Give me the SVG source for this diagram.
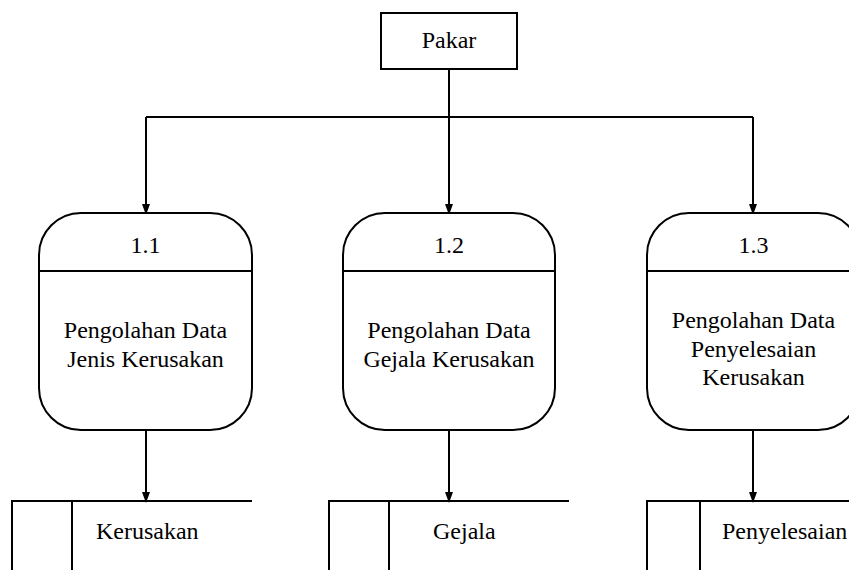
<svg xmlns="http://www.w3.org/2000/svg" width="849" height="570" viewBox="0 0 849 570" font-family="Liberation Serif" font-size="24">
<style>
.s{fill:#fff;stroke:#000;stroke-width:2}
.l{fill:none;stroke:#000;stroke-width:2}
.c{text-anchor:middle}
</style>
<defs>
<marker id="ah" markerWidth="11" markerHeight="15" refX="11" refY="5.5" orient="auto" markerUnits="userSpaceOnUse" viewBox="0 0 15 11">
<path d="M0,0 L15,5.5 L0,11 Z" fill="#000"/>
</marker>
</defs>
<g id="connectors">
<path class="l" d="M449,69 V212" marker-end="url(#ah)"/>
<path class="l" d="M146,117 H753"/>
<path class="l" d="M146,117 V212" marker-end="url(#ah)"/>
<path class="l" d="M753,117 V212" marker-end="url(#ah)"/>
<path class="l" d="M146,430 V500" marker-end="url(#ah)"/>
<path class="l" d="M449,430 V500" marker-end="url(#ah)"/>
<path class="l" d="M753,430 V500" marker-end="url(#ah)"/>
</g>
<g id="pakar">
<rect class="s" x="381" y="13" width="136" height="56"/>
<text class="c" x="449" y="48" font-family="Liberation Serif">Pakar</text>
</g>
<g id="p11">
<rect class="s" x="39" y="213" width="213" height="217" rx="42" ry="42"/>
<line class="l" x1="39" y1="271" x2="252" y2="271"/>
<text class="c" x="145.5" y="253" font-family="Liberation Serif">1.1</text>
<text class="c" x="145.5" y="338" font-family="Liberation Serif">Pengolahan Data</text>
<text class="c" x="145.5" y="367" font-family="Liberation Serif">Jenis Kerusakan</text>
</g>
<g id="p12">
<rect class="s" x="343" y="213" width="212" height="217" rx="42" ry="42"/>
<line class="l" x1="343" y1="271" x2="555" y2="271"/>
<text class="c" x="449" y="253" font-family="Liberation Serif">1.2</text>
<text class="c" x="449" y="338" font-family="Liberation Serif">Pengolahan Data</text>
<text class="c" x="449" y="367" font-family="Liberation Serif">Gejala Kerusakan</text>
</g>
<g id="p13">
<rect class="s" x="647" y="213" width="213" height="217" rx="42" ry="42"/>
<line class="l" x1="647" y1="271" x2="860" y2="271"/>
<text class="c" x="753.5" y="253" font-family="Liberation Serif">1.3</text>
<text class="c" x="753.5" y="328" font-family="Liberation Serif">Pengolahan Data</text>
<text class="c" x="753.5" y="357" font-family="Liberation Serif">Penyelesaian</text>
<text class="c" x="753.5" y="385" font-family="Liberation Serif">Kerusakan</text>
</g>
<g id="ds1">
<path class="l" d="M252,501 H12 V572 M72,501 V572"/>
<text x="96" y="539" font-family="Liberation Serif">Kerusakan</text>
</g>
<g id="ds2">
<path class="l" d="M569,501 H329 V572 M389,501 V572"/>
<text x="433" y="539" font-family="Liberation Serif">Gejala</text>
</g>
<g id="ds3">
<path class="l" d="M851,501 H647 V572 M700,501 V572"/>
<text x="722" y="539" font-family="Liberation Serif">Penyelesaian</text>
</g>
</svg>
